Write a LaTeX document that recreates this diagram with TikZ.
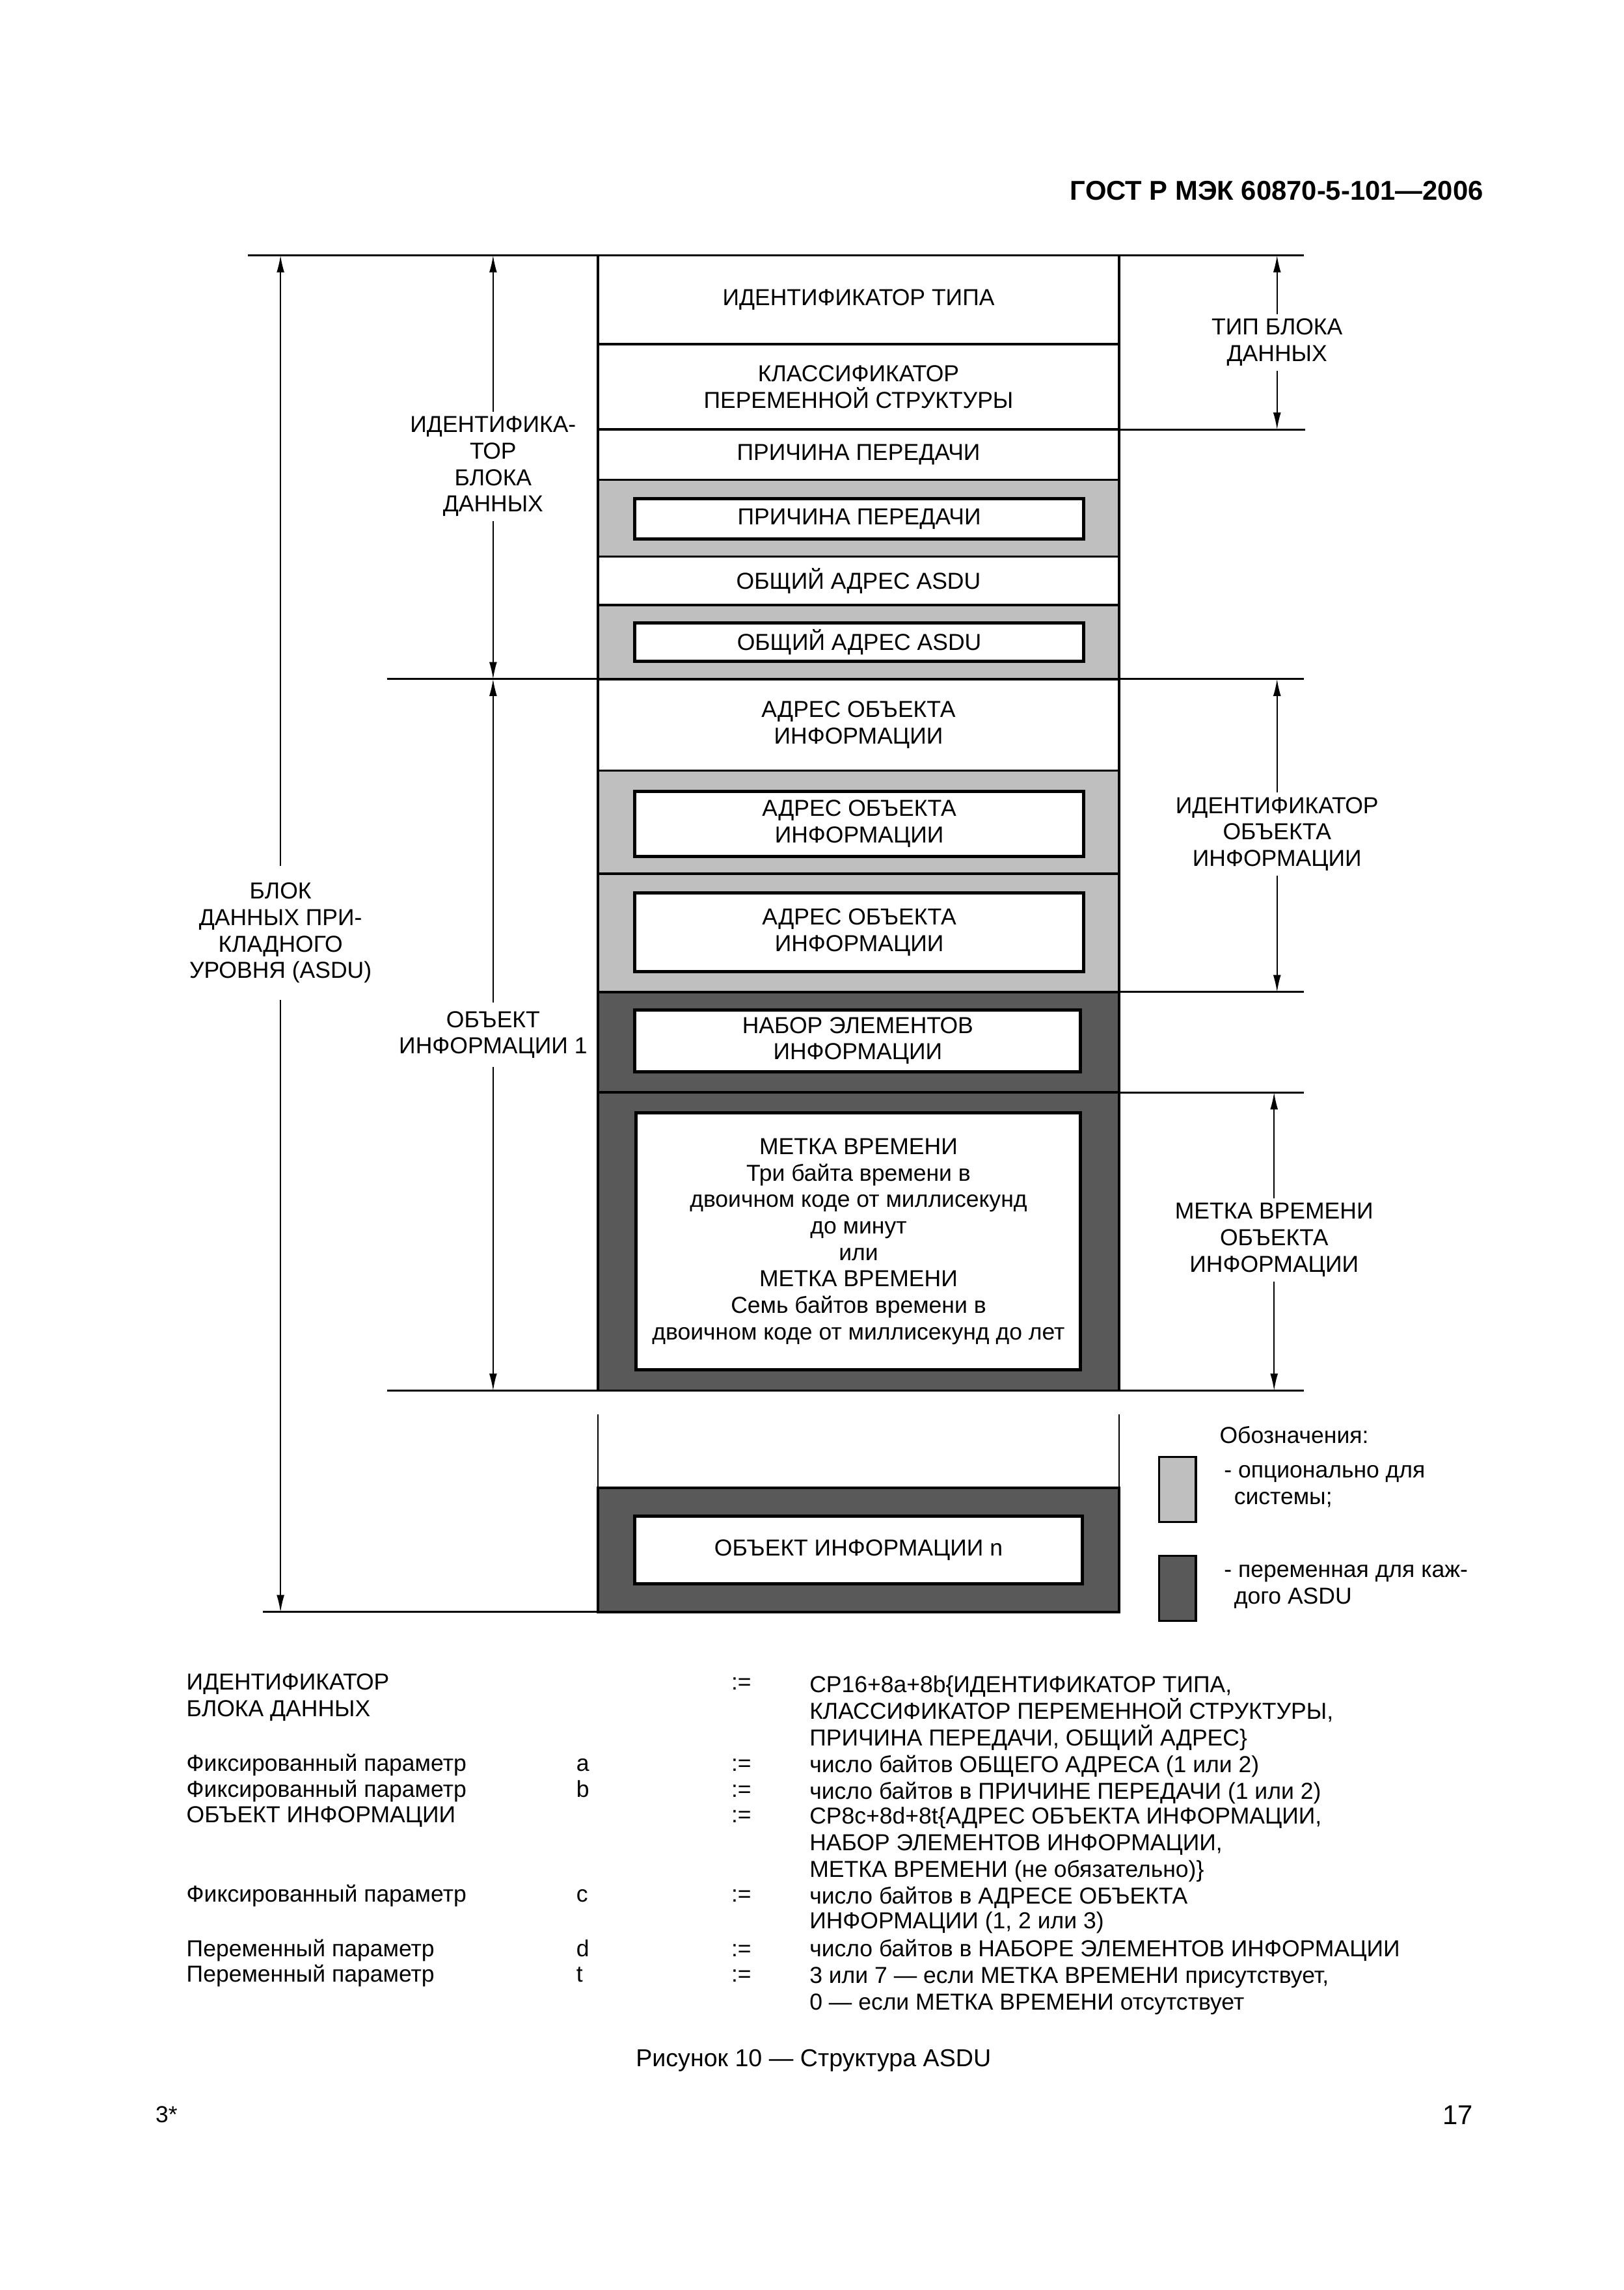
\documentclass[tikz,border=0pt]{standalone}
\usepackage{fontspec}
\setmainfont{Liberation Sans}
\usetikzlibrary{arrows.meta,positioning}

\tikzset{
  txt/.style={font=\fontsize{8.5}{9.75}\selectfont, align=center, inner sep=1.5pt},
  tbl/.style={font=\fontsize{8.5}{9.75}\selectfont, inner sep=0pt, anchor=base west},
  dimarrow/.style={-{Latex[length=2.2mm,width=1mm]}, line width=0.4pt},
  dimline/.style={line width=0.7pt},
  cell/.style={line width=0.9pt},
  inbox/.style={line width=1.2pt, fill=white},
  lightfill/.style={fill=black!25},
  darkfill/.style={fill=black!65},
}

\begin{document}
\begin{tikzpicture}[x=0.019091cm, y=-0.019091cm]
    \useasboundingbox (0,0) rectangle (1100,1551.3);

    % Header
    \node[anchor=base east, inner sep=0pt, font=\fontsize{10}{12}\selectfont\bfseries] (hdr) at (1005,135.5) {ГОСТ Р МЭК 60870-5-101—2006};

    % Column of the ASDU
    \draw[cell] (405,173) rectangle (758,233) node[midway, txt] (tid) {ИДЕНТИФИКАТОР ТИПА};
    \draw[cell] (405,233) rectangle (758,291) node[midway, txt] (vsq) {КЛАССИФИКАТОР\\ПЕРЕМЕННОЙ СТРУКТУРЫ};
    \draw[cell] (405,291) rectangle (758,325) node[midway, txt] (cot) {ПРИЧИНА ПЕРЕДАЧИ};
    \draw[cell, lightfill] (405,325) rectangle (758,377);
    \draw[inbox] (430,338) rectangle (734,365) node[midway, txt] (cotopt) {ПРИЧИНА ПЕРЕДАЧИ};
    \draw[cell] (405,377) rectangle (758,410) node[midway, txt] (caa) {ОБЩИЙ АДРЕС ASDU};
    \draw[cell, lightfill] (405,410) rectangle (758,460);
    \draw[inbox] (430,422) rectangle (734,448) node[midway, txt] (caaopt) {ОБЩИЙ АДРЕС ASDU};
    \draw[cell] (405,460) rectangle (758,522) node[midway, txt] (ioa) {АДРЕС ОБЪЕКТА\\ИНФОРМАЦИИ};
    \draw[cell, lightfill] (405,522) rectangle (758,592);
    \draw[inbox] (430,536) rectangle (734,580) node[midway, txt] (ioaopt) {АДРЕС ОБЪЕКТА\\ИНФОРМАЦИИ};
    \draw[cell, lightfill] (405,592) rectangle (758,672);
    \draw[inbox] (430,605) rectangle (734,658) node[midway, txt] (ioaopt2) {АДРЕС ОБЪЕКТА\\ИНФОРМАЦИИ};
    \draw[cell, darkfill] (405,672) rectangle (758,740);
    \draw[inbox] (430,684) rectangle (732,726) node[midway, txt] (ies) {НАБОР ЭЛЕМЕНТОВ\\ИНФОРМАЦИИ};
    \draw[cell, darkfill] (405,740) rectangle (758,942);
    \draw[inbox] (431,754) rectangle (732,928) node[midway, txt] (tag) {МЕТКА ВРЕМЕНИ\\Три байта времени в\\двоичном коде от миллисекунд\\до минут\\или\\МЕТКА ВРЕМЕНИ\\Семь байтов времени в\\двоичном коде от миллисекунд до лет};

    % Open part and object n
    \draw[line width=0.6pt] (405,958) -- (405,1008) (758,958) -- (758,1008);
    \draw[cell, darkfill] (405,1008) rectangle (758,1092);
    \draw[inbox] (430,1027) rectangle (733,1073) node[midway, txt] (ion) {ОБЪЕКТ ИНФОРМАЦИИ n};

    % Extension lines
    \draw[dimline] (168,173) -- (883,173);
    \draw[dimline] (758,291) -- (884,291);
    \draw[dimline] (262,460) -- (405,460) (758,460) -- (883,460);
    \draw[dimline] (758,672) -- (883,672);
    \draw[dimline] (758,740) -- (883,740);
    \draw[dimline] (262,942) -- (405,942) (758,942) -- (883,942);
    \draw[dimline] (178,1092) -- (405,1092);

    % Arrow ends
    \coordinate (asduT) at (190,173);
    \coordinate (asduB) at (190,1092);
    \coordinate (dutT) at (334,173);
    \coordinate (dutB) at (334,460);
    \coordinate (objT) at (334,460);
    \coordinate (objB) at (334,942);
    \coordinate (typT) at (865,173);
    \coordinate (typB) at (865,291);
    \coordinate (iobT) at (865,460);
    \coordinate (iobB) at (865,672);
    \coordinate (tagT) at (863,740);
    \coordinate (tagB) at (863,942);

    % Dimension labels
    \node[txt, inner ysep=6pt] (asdu) at (190,632) {БЛОК\\ДАННЫХ ПРИ-\\КЛАДНОГО\\УРОВНЯ (ASDU)};
    \node[txt] (dut) at (334,316) {ИДЕНТИФИКА-\\ТОР\\БЛОКА\\ДАННЫХ};
    \node[txt, inner ysep=3pt] (obj) at (334,701) {ОБЪЕКТ\\ИНФОРМАЦИИ 1};
    \node[txt] (typ) at (865,232) {ТИП БЛОКА\\ДАННЫХ};
    \node[txt] (iob) at (865,565) {ИДЕНТИФИКАТОР\\ОБЪЕКТА\\ИНФОРМАЦИИ};
    \node[txt] (tagl) at (863,840) {МЕТКА ВРЕМЕНИ\\ОБЪЕКТА\\ИНФОРМАЦИИ};

    % Dimension arrows
    \draw[dimarrow] (asdu) -- (asduT);
    \draw[dimarrow] (asdu) -- (asduB);
    \draw[dimarrow] (dut) -- (dutT);
    \draw[dimarrow] (dut) -- (dutB);
    \draw[dimarrow] (obj) -- (objT);
    \draw[dimarrow] (obj) -- (objB);
    \draw[dimarrow] (typ) -- (typT);
    \draw[dimarrow] (typ) -- (typB);
    \draw[dimarrow] (iob) -- (iobT);
    \draw[dimarrow] (iob) -- (iobB);
    \draw[dimarrow] (tagl) -- (tagT);
    \draw[dimarrow] (tagl) -- (tagB);

    % Legend
    \node[txt, anchor=west] (leg) at (823,972) {Обозначения:};
    \draw[line width=0.8pt, lightfill] (785,987) rectangle (810,1031);
    \node[txt, anchor=west, align=left] (legopt) at (826,1007) {- опционально для\\\hspace*{1.3mm}системы;};
    \draw[line width=0.8pt, darkfill] (785,1054) rectangle (810,1098);
    \node[txt, anchor=west, align=left] (legvar) at (826,1075) {- переменная для каж-\\\hspace*{1.3mm}дого ASDU};

    % Definitions
    \foreach \yy/\tx [count=\i] in {1139/ИДЕНТИФИКАТОР, 1157/БЛОКА ДАННЫХ,
        1194/Фиксированный параметр, 1212/Фиксированный параметр,
        1229/ОБЪЕКТ ИНФОРМАЦИИ, 1283/Фиксированный параметр,
        1320/Переменный параметр, 1337/Переменный параметр}
        \node[tbl] (name\i) at (126,\yy+5.6) {\tx};
    \foreach \yy/\tx [count=\i] in {1194/a, 1212/b, 1283/c, 1320/d, 1337/t}
        \node[tbl] (par\i) at (390,\yy+5.6) {\tx};
    \foreach \yy [count=\i] in {1139, 1194, 1212, 1229, 1283, 1320, 1337}
        \node[tbl] (eq\i) at (495,\yy+5.6) {:=};
    \foreach \yy/\tx [count=\i] in {1141/{CP16+8a+8b\{ИДЕНТИФИКАТОР ТИПА,},
        1159/{КЛАССИФИКАТОР ПЕРЕМЕННОЙ СТРУКТУРЫ,},
        1177/{ПРИЧИНА ПЕРЕДАЧИ, ОБЩИЙ АДРЕС\}},
        1195/{число байтов ОБЩЕГО АДРЕСА (1 или 2)},
        1213/{число байтов в ПРИЧИНЕ ПЕРЕДАЧИ (1 или 2)},
        1230/{CP8c+8d+8t\{АДРЕС ОБЪЕКТА ИНФОРМАЦИИ,},
        1248/{НАБОР ЭЛЕМЕНТОВ ИНФОРМАЦИИ,},
        1266/{МЕТКА ВРЕМЕНИ (не обязательно)\}},
        1284/{число байтов в АДРЕСЕ ОБЪЕКТА},
        1301/{ИНФОРМАЦИИ (1, 2 или 3)},
        1320/{число байтов в НАБОРЕ ЭЛЕМЕНТОВ ИНФОРМАЦИИ},
        1338/{3 или 7 — если МЕТКА ВРЕМЕНИ присутствует,},
        1356/{0 — если МЕТКА ВРЕМЕНИ отсутствует}}
        \node[tbl] (def\i) at (548,\yy+5.6) {\tx};

    % Caption and page marks
    \node[anchor=base, inner sep=0pt, font=\fontsize{9}{11}\selectfont] (cap) at (551,1400) {Рисунок 10 — Структура ASDU};
    \node[tbl] (sheet) at (105,1438) {3*};
    \node[anchor=base east, inner sep=0pt, font=\fontsize{10}{12}\selectfont] (page) at (998,1439) {17};
\end{tikzpicture}
\end{document}
